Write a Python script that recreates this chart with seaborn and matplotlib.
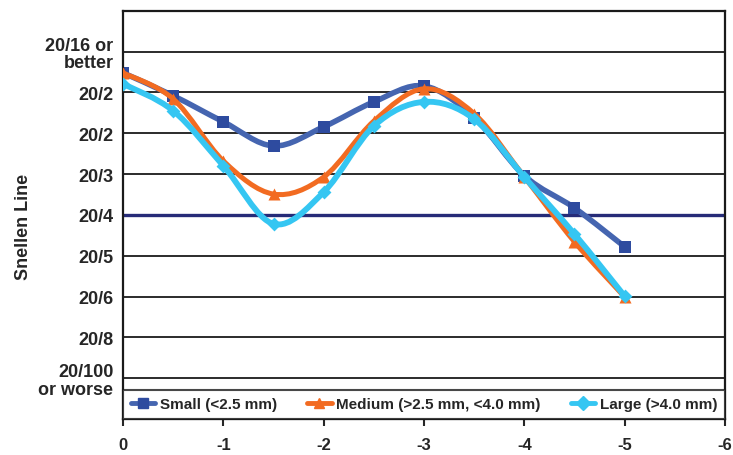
import numpy as np
import pandas as pd
import seaborn as sns
import matplotlib.pyplot as plt
from matplotlib.path import Path
from matplotlib.patches import PathPatch
from matplotlib.lines import Line2D

# values (y scale: 1 = 20/100 or worse ... 9 = 20/16 or better)
months = [0, -0.5, -1, -1.5, -2, -2.5, -3, -3.5, -4, -4.5, -5]
small = [8.48, 7.92, 7.28, 6.69, 7.16, 7.77, 8.16, 7.38, 5.96, 5.17, 4.22]
medium = [8.48, 7.84, 6.32, 5.51, 5.93, 7.30, 8.09, 7.48, 5.93, 4.34, 2.99]
large = [8.21, 7.55, 6.20, 4.78, 5.56, 7.18, 7.77, 7.35, 5.93, 4.53, 3.01]
names = ["Small (<2.5 mm)", "Medium (>2.5 mm, <4.0 mm)", "Large (>4.0 mm)"]
y_ticks = [1, 2, 3, 4, 5, 6, 7, 8, 9]
y_labels = ["20/100\nor worse", "20/8", "20/6", "20/5", "20/4", "20/3", "20/2", "20/2", "20/16 or\nbetter"]
x_ticks = [0, -1, -2, -3, -4, -5, -6]

sns.set_style("white")
plt.rcParams['font.family'] = ['Liberation Sans', 'DejaVu Sans']
plt.rcParams['font.weight'] = 'bold'

df = pd.DataFrame({'x': months * 3,
                   'y': small + medium + large,
                   'size': [names[0]] * 11 + [names[1]] * 11 + [names[2]] * 11})

line_cols = ['#4565B0', '#F26B21', '#35C6F2']
mark_cols = ['#2E4B9F', '#F26B21', '#35C6F2']
markers = ['s', '^', 'D']
msizes = [70, 75, 50]
lws = [4.0, 3.6, 4.2]


def smooth_path(xs, ys):
    # bezier through the points, like the spreadsheet "smoothed line"
    pts = np.column_stack([xs, ys])
    n = len(pts)
    verts = [pts[0]]
    codes = [Path.MOVETO]
    for i in range(n - 1):
        p0 = pts[max(i - 1, 0)]
        p1 = pts[i]
        p2 = pts[i + 1]
        p3 = pts[min(i + 2, n - 1)]
        verts += [p1 + (p2 - p0) / 6, p2 - (p3 - p1) / 6, p2]
        codes += [Path.CURVE4] * 3
    return Path(verts, codes)


fig, ax = plt.subplots(figsize=(7.33, 4.56), dpi=100)
fig.subplots_adjust(left=0.168, right=0.989, bottom=0.079, top=0.974)

for yy in y_ticks:
    if yy != 5:
        ax.axhline(yy, color='#1a1a1a', lw=1.3, zorder=1)
ax.axhline(5, color='#262B78', lw=2.4, zorder=1)

for i, nm in enumerate(names):
    sub = df[df['size'] == nm]
    ax.add_patch(PathPatch(smooth_path(sub['x'].values, sub['y'].values),
                           fill=False, edgecolor=line_cols[i], lw=lws[i],
                           capstyle='round', joinstyle='round', zorder=2 + i))
    sns.scatterplot(data=sub, x='x', y='y', marker=markers[i], s=msizes[i],
                    color=mark_cols[i], edgecolor=mark_cols[i], linewidth=0,
                    ax=ax, zorder=2.5 + i, legend=False)

ax.set_xlim(0, -6)
ax.set_ylim(0, 10)
ax.set_xticks(x_ticks)
ax.set_xticklabels([str(t) for t in x_ticks], fontsize=12, fontweight='bold')
ax.set_yticks(y_ticks)
ax.set_yticklabels(y_labels, fontsize=13, fontweight='bold', multialignment='right',
                   linespacing=1.05)
ax.tick_params(axis='y', length=0, pad=7)
ax.tick_params(axis='x', length=5, width=1.5, direction='out', pad=8, bottom=True)
ax.set_xlabel('')
ax.set_ylabel('Snellen Line', fontsize=13, fontweight='bold')
ax.yaxis.set_label_coords(-0.151, 0.473)
for sp in ax.spines.values():
    sp.set_color('#1a1a1a')
    sp.set_linewidth(1.6)

handles = [Line2D([], [], color=line_cols[i], lw=3.5, marker=markers[i],
                  markersize=7, markerfacecolor=mark_cols[i],
                  markeredgecolor=mark_cols[i]) for i in range(3)]
leg = ax.legend(handles, names, loc='lower left', bbox_to_anchor=(0, 0, 1, 0.092),
                mode='expand', ncol=3, borderaxespad=0, fancybox=False,
                handlelength=1.6, handletextpad=0.3, columnspacing=1.0,
                prop={'size': 11, 'weight': 'bold'}, borderpad=0.5)
leg.get_frame().set_edgecolor('#1a1a1a')
leg.get_frame().set_linewidth(1.5)
leg.set_zorder(10)

fig.savefig('out.png', dpi=100)
